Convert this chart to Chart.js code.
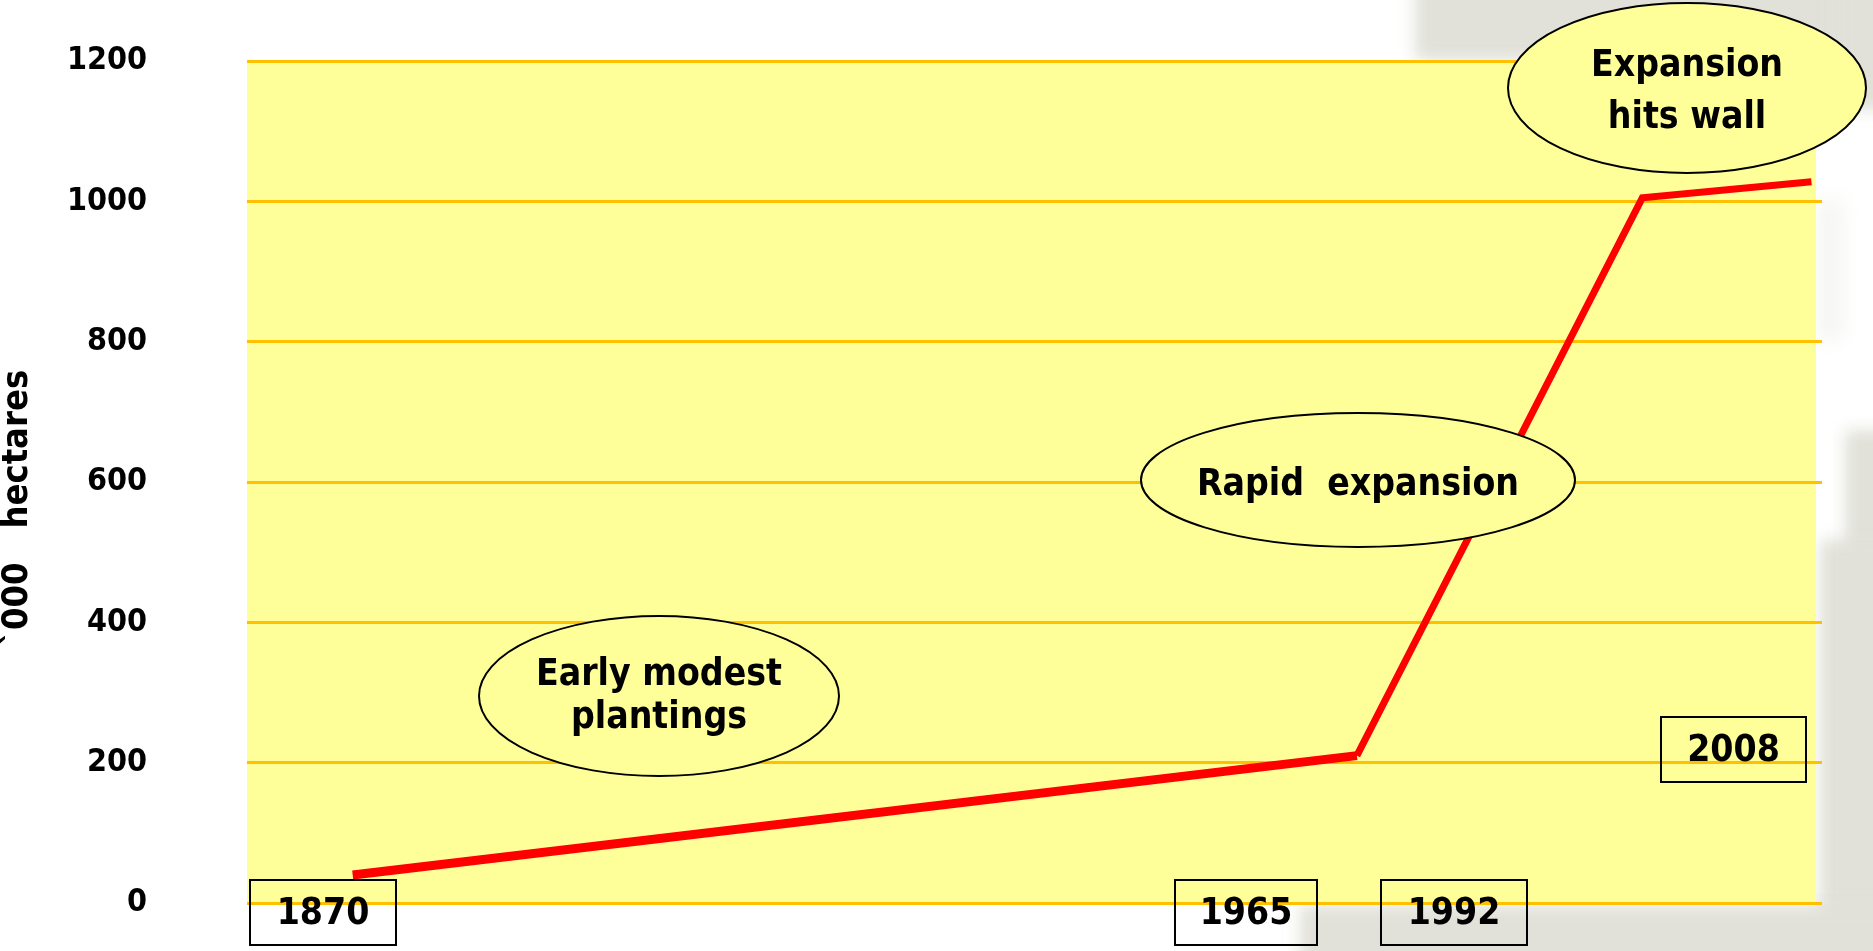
<!DOCTYPE html>
<html>
<head>
<meta charset="utf-8">
<script src="https://cdn.jsdelivr.net/npm/chart.js@4.4.1/dist/chart.umd.min.js"></script>
<style>
  html, body { margin:0; padding:0; background:#ffffff; }
  #wrap { position:relative; width:1873px; height:951px; overflow:hidden; background:#ffffff; }
  .g { position:absolute; background:#e1e1d9; filter:blur(8px); }
  canvas { position:absolute; left:0; top:0; }
</style>
</head>
<body>
<div id="wrap">
  <div class="g" style="left:1415px; top:-20px; width:480px; height:80px;"></div>
  <div class="g" style="left:1835px; top:-20px; width:80px; height:130px;"></div>
  <div class="g" style="left:1818px; top:200px; width:24px; height:140px; opacity:0.35; filter:blur(10px);"></div>
  <div class="g" style="left:1845px; top:430px; width:80px; height:560px;"></div>
  <div class="g" style="left:1820px; top:540px; width:80px; height:460px;"></div>
  <div class="g" style="left:1300px; top:905px; width:620px; height:80px;"></div>
  <canvas id="c" width="1873" height="951"></canvas>
</div>
<script>
// ---- data ----
const years = [1870, 1965, 1992, 2008];
const hectares = [40, 210, 1005, 1028];
const yTickValues = [0, 200, 400, 600, 800, 1000, 1200];
const yearLabels = ['1870', '1965', '1992', '2008'];
const noteTexts = [['Early modest', 'plantings'], ['Rapid  expansion'], ['Expansion', 'hits wall']];
const yAxisTitle = '`000   hectares';

// ---- layout / style (not data) ----
const FONT = '"DejaVu Sans Condensed", "DejaVu Sans", sans-serif';
const notePlacement = [
  { cx: 659, cy: 696, rx: 180, ry: 80, lines: [675, 718] },
  { cx: 1358, cy: 480, rx: 217, ry: 67, lines: [485] },
  { cx: 1687, cy: 88, rx: 179, ry: 85, lines: [66, 118] }
];
const yearBoxPlacement = [
  { x: 250, y: 880, w: 146, h: 65 },
  { x: 1175, y: 880, w: 142, h: 65 },
  { x: 1381, y: 880, w: 146, h: 65 },
  { x: 1661, y: 717, w: 145, h: 65 }
];

const plotBg = {
  id: 'plotBg',
  beforeDraw(chart) {
    const { ctx, chartArea: a } = chart;
    ctx.save();
    ctx.fillStyle = '#ffff99';
    ctx.fillRect(a.left, a.top, a.right - 6 - a.left, a.bottom - a.top);
    ctx.restore();
  }
};

const notes = {
  id: 'notes',
  afterDatasetsDraw(chart) {
    const ctx = chart.ctx;
    ctx.save();
    noteTexts.forEach((lines, i) => {
      const p = notePlacement[i];
      ctx.beginPath();
      ctx.ellipse(p.cx, p.cy, p.rx, p.ry, 0, 0, Math.PI * 2);
      ctx.fillStyle = '#ffff99';
      ctx.fill();
      ctx.lineWidth = 2;
      ctx.strokeStyle = '#000';
      ctx.stroke();
      ctx.fillStyle = '#000';
      ctx.font = 'bold 37px ' + FONT;
      ctx.textAlign = 'center';
      ctx.textBaseline = 'middle';
      lines.forEach((t, j) => ctx.fillText(t, p.cx, p.lines[j]));
    });
    yearLabels.forEach((t, i) => {
      const b = yearBoxPlacement[i];
      ctx.lineWidth = 2;
      ctx.strokeStyle = '#000';
      ctx.strokeRect(b.x, b.y, b.w, b.h);
      ctx.fillStyle = '#000';
      ctx.font = 'bold 37px ' + FONT;
      ctx.textAlign = 'center';
      ctx.textBaseline = 'middle';
      ctx.fillText(t, b.x + b.w / 2, b.y + b.h / 2 + 2);
    });
    ctx.translate(18, 508);
    ctx.rotate(-Math.PI / 2);
    ctx.font = 'bold 36px ' + FONT;
    ctx.textAlign = 'center';
    ctx.textBaseline = 'middle';
    ctx.fillText(yAxisTitle, 0, 0);
    ctx.restore();
  }
};

new Chart(document.getElementById('c'), {
  type: 'line',
  data: {
    datasets: [{
      data: years.map((y, i) => ({ x: y, y: hectares[i] })),
      borderColor: '#ff0000',
      borderWidth: 7,
      pointRadius: 0,
      tension: 0,
      segment: {
        borderWidth: ctx => (ctx.p0DataIndex === 0 ? 9 : 7)
      }
    }]
  },
  options: {
    responsive: false,
    animation: false,
    devicePixelRatio: 1,
    layout: { padding: { top: 61, bottom: 48, right: 51, left: 0 } },
    plugins: { legend: { display: false }, tooltip: { enabled: false } },
    scales: {
      x: {
        type: 'linear',
        min: 1860,
        max: 2009,
        display: false
      },
      y: {
        min: 0,
        max: 1200,
        afterBuildTicks(scale) { scale.ticks = yTickValues.map(v => ({ value: v })); },
        afterFit(scale) { scale.width = 247; },
        ticks: {
          color: '#000',
          padding: 10,
          callback: v => String(v),
          font: { family: FONT, size: 32, weight: 'bold' }
        },
        grid: { color: '#ffc000', lineWidth: 3, drawTicks: true, tickLength: 90, tickColor: 'rgba(0,0,0,0)' },
        border: { display: false }
      }
    }
  },
  plugins: [plotBg, notes]
});
</script>
</body>
</html>
